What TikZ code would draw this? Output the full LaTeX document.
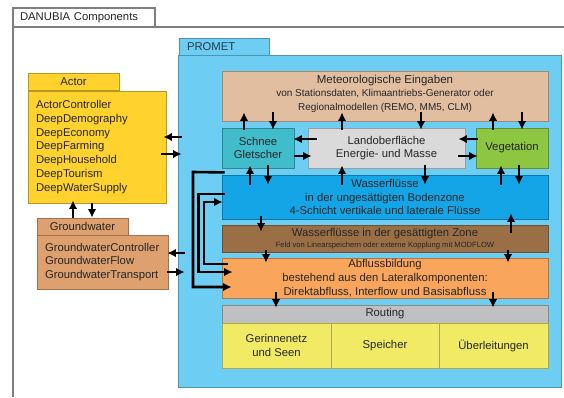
\documentclass[tikz,border=0pt]{standalone}
\usepackage{fontspec}
\setmainfont{Liberation Sans}
\usetikzlibrary{arrows.meta}
\definecolor{framec}{HTML}{7F7F7F}
\definecolor{txtc}{HTML}{262626}
\definecolor{prometc}{HTML}{6DCDF3}
\definecolor{metc}{HTML}{E2BEA0}
\definecolor{schneec}{HTML}{41BCCB}
\definecolor{landc}{HTML}{DADADA}
\definecolor{vegc}{HTML}{8DC641}
\definecolor{wasserc}{HTML}{13A5E6}
\definecolor{gesc}{HTML}{9B6F45}
\definecolor{abflussc}{HTML}{F9A55C}
\definecolor{routingc}{HTML}{C0C0C0}
\definecolor{yellowc}{HTML}{F0EA64}
\definecolor{actorc}{HTML}{FFD22E}
\definecolor{gwc}{HTML}{DDA06E}
\begin{document}
\begin{tikzpicture}[x=1pt,y=-1pt,
  box/.style={draw=#1!72!black, fill=#1, rectangle, inner sep=0pt, align=center,
    text=txtc, font=\fontsize{11.3}{13.5}\selectfont, line width=0.8pt},
  listbox/.style={box=#1, align=left, inner xsep=8pt, font=\fontsize{11.3}{13.85}\selectfont},
  arr/.style={line width=2.6pt, -{Latex[length=8.5pt,width=8.5pt]}},
]
\useasboundingbox (0,0) rectangle (564,397);
\fill[white] (0,0) rectangle (564,397);

% outer DANUBIA frame
\draw[framec, line width=1.1pt] (13,397) -- (13,27) -- (564,27);
\node[draw=framec, fill=white, line width=1.1pt, rectangle, inner sep=0pt, inner xsep=7pt,
  minimum width=142pt, minimum height=19pt, text width=128pt, align=left, text=txtc,
  font=\fontsize{11.3}{13.5}\selectfont] (danubia) at (84,17.5) {DANUBIA Components};

% PROMET
\node[box=prometc, minimum width=90pt, minimum height=18pt, text width=74pt, inner xsep=8pt,
  align=left, text=prometc!30!black] (promettab) at (224,47) {PROMET};
\node[box=prometc, minimum width=383pt, minimum height=332pt] (promet) at (369.5,221) {};

\node[box=metc, minimum width=326pt, minimum height=50pt] (met) at (385,96) {};
\node[text=txtc, align=center, font=\fontsize{10}{13.5}\selectfont] at (385,93.5)
  {{\fontsize{11.5}{13.5}\selectfont Meteorologische Eingaben}\\von Stationsdaten, Klimaantriebs-Generator oder\\Regionalmodellen (REMO, MM5, CLM)};

\node[box=schneec, minimum width=72pt, minimum height=40pt] (schnee) at (258,148) {Schnee\\Gletscher};
\node[box=landc, minimum width=157pt, minimum height=40pt] (land) at (386.5,148) {Landoberfläche\\Energie- und Masse};
\node[box=vegc, minimum width=72pt, minimum height=40pt] (veg) at (512,148) {Vegetation};

\node[box=wasserc, minimum width=326pt, minimum height=44pt] (wasser) at (385,197)
  {Wasserflüsse\\in der ungesättigten Bodenzone\\4-Schicht vertikale und laterale Flüsse};
\node[box=gesc, minimum width=326pt, minimum height=27pt] (ges) at (385,238.5)
  {Wasserflüsse in der gesättigten Zone\\[-2pt]{\fontsize{7.6}{9}\selectfont Feld von Linearspeichern oder externe Kopplung mit MODFLOW}};
\node[box=abflussc, minimum width=326pt, minimum height=40pt, font=\fontsize{11.3}{14}\selectfont] (abfluss) at (385,278)
  {Abflussbildung\\bestehend aus den Lateralkomponenten:\\Direktabfluss, Interflow und Basisabfluss};

\node[box=routingc, minimum width=326pt, minimum height=18pt] (routing) at (385,314) {Routing};
\node[box=yellowc, minimum width=109pt, minimum height=45pt] (gerinne) at (276.5,345.5) {Gerinnenetz\\und Seen};
\node[box=yellowc, minimum width=108pt, minimum height=45pt] (speicher) at (385,345.5) {Speicher};
\node[box=yellowc, minimum width=109pt, minimum height=45pt] (ueber) at (493.5,345.5) {Überleitungen};

% Actor
\node[box=actorc, minimum width=91pt, minimum height=17pt] (actortab) at (73.5,81.5) {Actor};
\node[listbox=actorc, minimum width=138pt, minimum height=112pt, text width=122pt] (actor) at (97,147)
  {ActorController\\DeepDemography\\DeepEconomy\\DeepFarming\\DeepHousehold\\DeepTourism\\DeepWaterSupply};

% Groundwater
\node[box=gwc, minimum width=91pt, minimum height=17pt] (gwtab) at (82.5,226.5) {Groundwater};
\node[listbox=gwc, minimum width=131pt, minimum height=54pt, text width=115pt,
  font=\fontsize{11.3}{13.5}\selectfont] (gw) at (102.5,262)
  {GroundwaterController\\GroundwaterFlow\\GroundwaterTransport};

% arrows Met <-> second row
\draw[arr, shorten <=-2pt, shorten >=-9pt] (schnee.north -| 244,0) -- (met.south -| 244,0);
\draw[arr, shorten <=-9pt, shorten >=-2pt] (met.south -| 273,0) -- (schnee.north -| 273,0);
\draw[arr, shorten <=-2pt, shorten >=-9pt] (land.north -| 342,0) -- (met.south -| 342,0);
\draw[arr, shorten <=-9pt, shorten >=-2pt] (met.south -| 421,0) -- (land.north -| 421,0);
\draw[arr, shorten <=-2pt, shorten >=-9pt] (veg.north -| 493,0) -- (met.south -| 493,0);
\draw[arr, shorten <=-9pt, shorten >=-2pt] (met.south -| 522,0) -- (veg.north -| 522,0);

% horizontal arrows in second row
\draw[arr, shorten <=-9pt, shorten >=-1pt] (land.west |- 0,139) -- (schnee.east |- 0,139);
\draw[arr, shorten >=-4pt] (schnee.east |- 0,156) -- (land.west |- 0,156);
\draw[arr, shorten <=-2pt, shorten >=-7pt] (veg.west |- 0,139) -- (land.east |- 0,139);
\draw[arr, shorten <=-7pt, shorten >=-2pt] (land.east |- 0,156) -- (veg.west |- 0,156);

% second row <-> Wasser
\draw[arr, shorten <=-10pt, shorten >=-3pt] (wasser.north -| 250,0) -- (schnee.south -| 250,0);
\draw[arr, shorten <=-3pt, shorten >=-10pt] (schnee.south -| 268,0) -- (wasser.north -| 268,0);
\draw[arr, shorten <=-10pt, shorten >=-3pt] (wasser.north -| 342,0) -- (land.south -| 342,0);
\draw[arr, shorten <=-3pt, shorten >=-10pt] (land.south -| 425,0) -- (wasser.north -| 425,0);
\draw[arr, shorten <=-10pt, shorten >=-3pt] (wasser.north -| 501,0) -- (veg.south -| 501,0);
\draw[arr, shorten <=-3pt, shorten >=-10pt] (veg.south -| 519,0) -- (wasser.north -| 519,0);

% Wasser <-> gesaettigte Zone
\draw[arr, shorten <=-3pt, shorten >=-7pt] (wasser.south -| 261,0) -- (ges.north -| 261,0);
\draw[arr, shorten <=-8pt, shorten >=-6pt] (ges.north -| 511,0) -- (wasser.south -| 511,0);

% gesaettigte Zone -> Abfluss
\draw[arr, shorten <=-2pt, shorten >=-5pt] (ges.south -| 266,0) -- (abfluss.north -| 266,0);
\draw[arr, shorten <=-2pt, shorten >=-5pt] (ges.south -| 508,0) -- (abfluss.north -| 508,0);

% Abfluss -> Routing
\draw[arr, shorten <=-6pt, shorten >=-3pt] (abfluss.south -| 276,0) -- (routing.north -| 276,0);
\draw[arr, shorten <=-6pt, shorten >=-3pt] (abfluss.south -| 493,0) -- (routing.north -| 493,0);

% long wires on the left of the PROMET boxes
\draw[arr, shorten >=-10pt] ([shift={(3,4)}]schnee.south west) -- (193,172) -- (193,287) -- (abfluss.west |- 0,287);
\draw[arr, shorten >=-11pt] ([shift={(3,-3)}]wasser.west) -- (198.5,194) -- (198.5,272) -- (abfluss.west |- 0,272);
\draw[arr, shorten >=-1pt] ([shift={(6,-14)}]abfluss.west) -- (204,264) -- (204,202) -- (wasser.west |- 0,202);

% Actor <-> PROMET
\draw[arr, shorten <=-4pt, shorten >=-3pt] (promet.west |- 0,137) -- (actor.east |- 0,137);
\draw[arr, shorten <=-5pt, shorten >=-4pt] (actor.east |- 0,154) -- (promet.west |- 0,154);

% Groundwater <-> PROMET
\draw[arr, shorten <=-7pt, shorten >=-1pt] (promet.west |- 0,253) -- (gw.east |- 0,253);
\draw[arr, shorten <=-1pt, shorten >=-7pt] (gw.east |- 0,272) -- (promet.west |- 0,272);

% Actor <-> Groundwater
\draw[arr, shorten >=-3pt] (gwtab.north -| 73,0) -- (actor.south -| 73,0);
\draw[arr] (actor.south -| 92,0) -- (gwtab.north -| 92,0);
\end{tikzpicture}
\end{document}
